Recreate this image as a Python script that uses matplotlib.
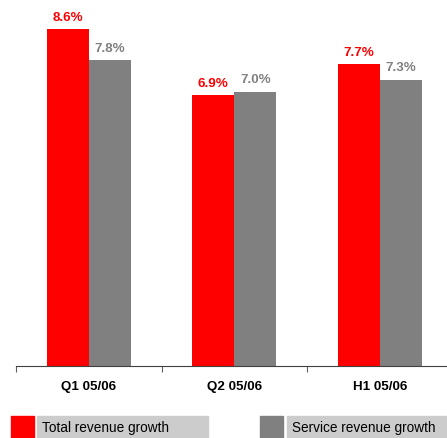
import matplotlib
matplotlib.use('Agg')
import matplotlib.pyplot as plt
from matplotlib.patches import Rectangle
import numpy as np

plt.rcParams['font.family'] = ['Liberation Sans', 'DejaVu Sans']

categories = ['Q1 05/06', 'Q2 05/06', 'H1 05/06']
total_growth = [8.6, 6.9, 7.7]
service_growth = [7.8, 7.0, 7.3]
series_names = ['Total revenue growth', 'Service revenue growth']
red = '#ff0000'
grey = '#808080'

W, H = 447, 439
fig = plt.figure(figsize=(W / 100, H / 100), dpi=100)
# axes runs a bit past the right edge, like the original slide
ax = fig.add_axes([16 / W, (H - 367) / H, 436.5 / W, 367 / H])

x = np.arange(len(categories))
bw = 0.29
ax.bar(x - bw / 2, total_growth, bw, color=red)
ax.bar(x + bw / 2, service_growth, bw, color=grey)

for xi, v in zip(x, total_growth):
    ax.text(xi - bw / 2, v + 0.16, '%.1f%%' % v, color=red, ha='center',
            va='bottom', fontsize=9.6, fontweight='bold')
for xi, v in zip(x, service_growth):
    ax.text(xi + bw / 2, v + 0.16, '%.1f%%' % v, color=grey, ha='center',
            va='bottom', fontsize=9.6, fontweight='bold')

ax.set_xlim(-0.5, 2.5)
ax.set_ylim(0, 9.36)
for s in ['top', 'right', 'left']:
    ax.spines[s].set_visible(False)
ax.spines['bottom'].set_color('#404040')
ax.set_yticks([])
ax.set_xticks(np.arange(-0.5, 3, 1))
ax.set_xticklabels([])
ax.tick_params(axis='x', length=4, color='#606060')
for xi, c in zip(x, categories):
    ax.text(xi, -0.36, c, ha='center', va='top', fontsize=9.6,
            fontweight='bold', transform=ax.transData, clip_on=False)

# legend boxes
def fig_rect(x0, y0, w, h, color):
    fig.patches.append(Rectangle((x0 / W, 1 - (y0 + h) / H), w / W, h / H,
                                 transform=fig.transFigure, color=color))

fig_rect(11, 417, 23, 22, red)
fig_rect(37, 417, 171, 22, '#cccccc')
fig_rect(260, 417, 23, 22, grey)
fig_rect(287, 417, 160, 22, '#cccccc')
fig.text(42 / W, 1 - 428 / H, series_names[0], va='center', fontsize=9.8)
fig.text(292 / W, 1 - 428 / H, series_names[1], va='center', fontsize=9.8)

fig.savefig('out.png', dpi=100)
